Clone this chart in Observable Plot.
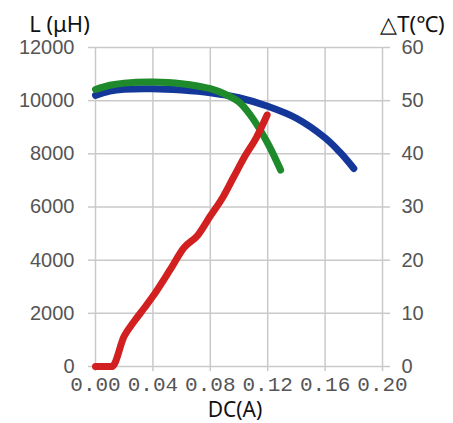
<!DOCTYPE html>
<html>
<head>
<meta charset="utf-8">
<script src="https://cdn.jsdelivr.net/npm/d3@7"></script>
<script src="https://cdn.jsdelivr.net/npm/@observablehq/plot@0.6"></script>
<style>
  html, body { margin: 0; padding: 0; background: #fff; }
  #chart svg { display: block; }
</style>
</head>
<body>
<div id="chart"></div>
<script>
// Inductance curve A (blue), L in µH vs DC current (A)
const blueX = [0, 0.01, 0.02, 0.04, 0.06, 0.08, 0.10, 0.12, 0.14, 0.16, 0.17, 0.18];
const blueL = [10200, 10360, 10430, 10450, 10400, 10300, 10110, 9790, 9340, 8600, 8080, 7450];

// Inductance curve B (green)
const greenX = [0, 0.01, 0.02, 0.04, 0.06, 0.08, 0.09, 0.10, 0.108, 0.12, 0.129];
const greenL = [10420, 10580, 10660, 10700, 10640, 10450, 10250, 9950, 9450, 8400, 7390];

// Temperature rise (red), ΔT in °C vs DC current (A)
const redX = [0, 0.0115, 0.02, 0.027, 0.034, 0.04, 0.052, 0.0615, 0.071, 0.08, 0.088, 0.096, 0.104, 0.112, 0.1196];
const redT = [0, 0, 5.7, 8.5, 11, 13.2, 18.2, 22.3, 24.6, 28.3, 31.5, 35.5, 39.5, 43, 47.3];

// Tick labels
const xTicks = [0, 0.04, 0.08, 0.12, 0.16, 0.20];
const yTicksL = [0, 2000, 4000, 6000, 8000, 10000, 12000];
const yTicksT = [0, 10, 20, 30, 40, 50, 60];

const tScale = 12000 / 60; // maps ΔT onto the L axis

const blue = blueX.map((x, i) => ({x, y: blueL[i]}));
const green = greenX.map((x, i) => ({x, y: greenL[i]}));
const red = redX.map((x, i) => ({x, y: redT[i] * tScale}));

const gridColor = "#c9c9c9";
const labelColor = "#555";
const tickFont = "'Liberation Sans', Arial, sans-serif";
const titleFont = "'Noto Sans', 'Open Sans', sans-serif";

const chart = Plot.plot({
  width: 453,
  height: 423,
  marginLeft: 95,
  marginRight: 71,
  marginTop: 47,
  marginBottom: 57,
  x: {domain: [0, 0.2]},
  y: {domain: [0, 12000]},
  marks: [
    Plot.gridX(xTicks, {stroke: gridColor, strokeOpacity: 1, strokeWidth: 1.5}),
    Plot.gridY(yTicksL, {stroke: gridColor, strokeOpacity: 1, strokeWidth: 1.5}),
    Plot.axisX(xTicks, {
      tickFormat: d3.format(".2f"), tickSize: 5, tickPadding: 5,
      stroke: gridColor, strokeWidth: 1.5, fill: labelColor,
      fontFamily: "'Liberation Mono', 'DejaVu Sans Mono', monospace", fontSize: 21, label: null
    }),
    Plot.axisY(yTicksL, {
      anchor: "left", tickFormat: d3.format("d"), tickSize: 7, tickPadding: 14,
      stroke: gridColor, strokeWidth: 1.5, fill: labelColor,
      fontFamily: tickFont, fontSize: 20, label: null
    }),
    Plot.axisY(yTicksT.map(t => t * tScale), {
      anchor: "right", tickFormat: d => d / tScale, tickSize: 7, tickPadding: 12,
      stroke: gridColor, strokeWidth: 1.5, fill: labelColor,
      fontFamily: tickFont, fontSize: 20, label: null
    }),
    Plot.line(blue, {x: "x", y: "y", stroke: "#14389a", strokeWidth: 7, curve: "catmull-rom", strokeLinecap: "round"}),
    Plot.line(green, {x: "x", y: "y", stroke: "#1f8a2c", strokeWidth: 7, curve: "catmull-rom", strokeLinecap: "round"}),
    Plot.line(red, {x: "x", y: "y", stroke: "#d21f1f", strokeWidth: 7, curve: "monotone-x", strokeLinecap: "round", strokeLinejoin: "round"}),
    Plot.text(["L (μH)"], {frameAnchor: "top-left", dx: -36, dy: -23, textAnchor: "middle", lineAnchor: "middle", fontSize: 22, fontFamily: titleFont, fill: "#111"}),
    Plot.text(["△T(℃)"], {frameAnchor: "top-right", dx: 30, dy: -23, textAnchor: "middle", lineAnchor: "middle", fontSize: 22, fontFamily: titleFont, fill: "#111"}),
    Plot.text(["DC(A)"], {frameAnchor: "bottom", dx: -4, dy: 44, textAnchor: "middle", lineAnchor: "middle", fontSize: 21, fontFamily: titleFont, fill: "#111"})
  ]
});
document.getElementById("chart").appendChild(chart);
</script>
</body>
</html>
